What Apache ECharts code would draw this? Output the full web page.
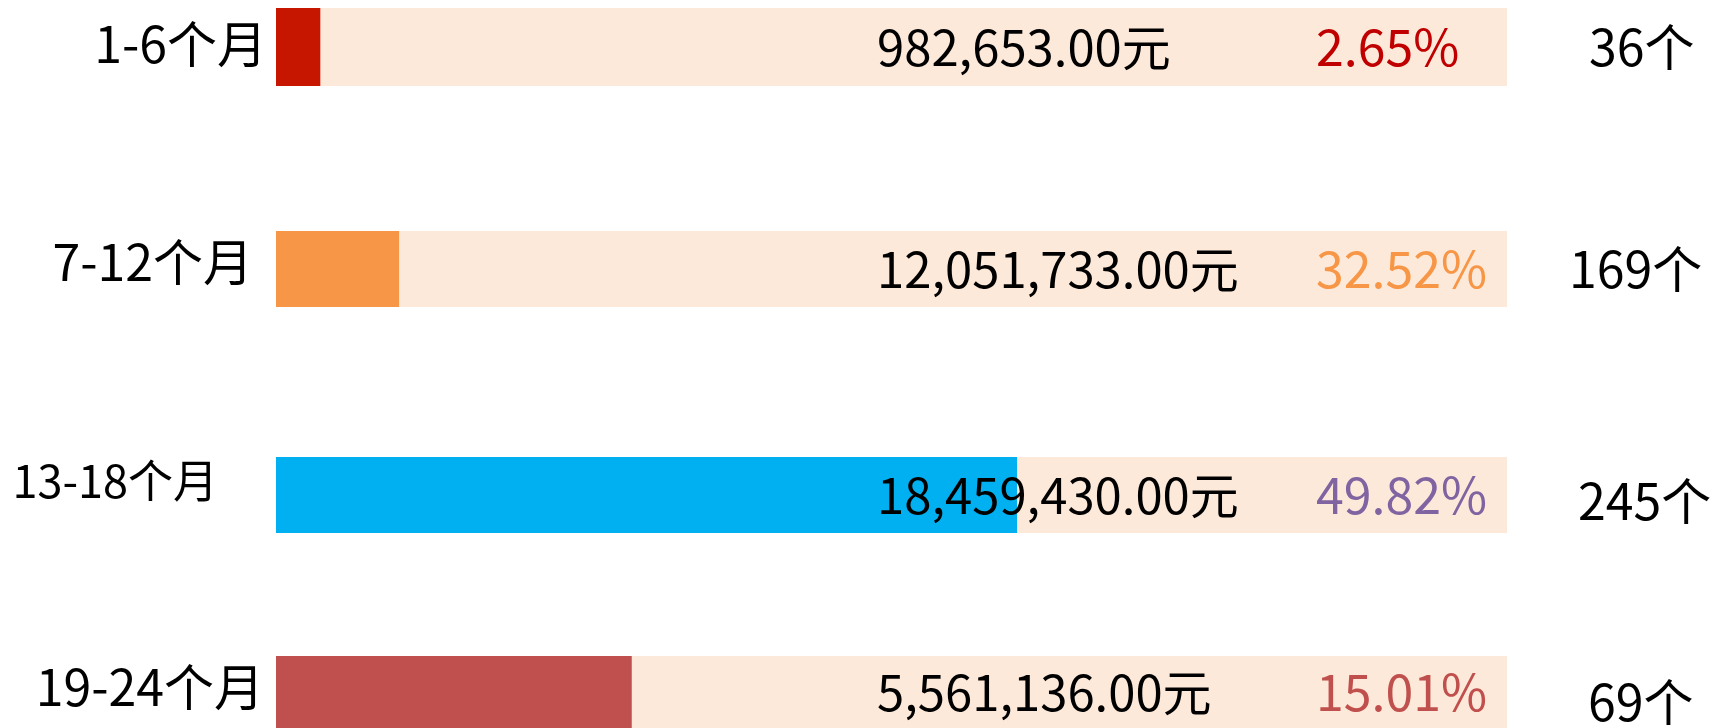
<!DOCTYPE html>
<html>
<head>
<meta charset="utf-8">
<script src="https://cdn.jsdelivr.net/npm/echarts@6/dist/echarts.min.js"></script>
<style>
    html, body { margin: 0; padding: 0; background: #fff; }
    #main { width: 1724px; height: 728px; }
</style>
</head>
<body>
<div id="main"></div>
<script>
var categories = ['1-6个月', '7-12个月', '13-18个月', '19-24个月'];
var amounts = [982653, 12051733, 18459430, 5561136];
var percents = [2.65, 32.52, 49.82, 15.01];
var counts = [36, 169, 245, 69];
// length of the coloured part as drawn (percent of the track)
var barFill = [3.6, 10, 60.2, 28.9];

var barColors = ['#C71600', '#F79646', '#00B0F0', '#C0504D'];
var pctColors = ['#C00000', '#F79646', '#8064A2', '#C0504D'];

// one grid per row, rows are not evenly spaced in the original
var rowTop = [8, 231, 457, 656];
var rowHeight = [78, 76, 76, 72];
var nameGap = [9, 23, 58, 12];
var nameLift = [6, 14, 28, 10];
var nameSize = [50, 50, 45, 50];
var countGap = [82, 62, 71, 81];
var countDrop = [0, 0, 12, 20];

var chart = echarts.init(document.getElementById('main'));

var grids = [], xAxes = [], yAxes = [], series = [];
categories.forEach(function (cat, i) {
    grids.push({
        left: 276, right: 217, top: rowTop[i], height: rowHeight[i],
        containLabel: false,
        outerBoundsMode: 'none'
    });
    xAxes.push({ gridIndex: i, type: 'value', min: 0, max: 100, show: false });
    // left: category name
    yAxes.push({
        gridIndex: i,
        type: 'category',
        data: [cat],
        axisLine: { show: false },
        axisTick: { show: false },
        axisLabel: {
            margin: nameGap[i],
            formatter: '{n|{value}}',
            rich: {
                n: { fontSize: nameSize[i], color: '#000', padding: [0, 0, nameLift[i], 0] }
            }
        }
    });
    // right: project count
    yAxes.push({
        gridIndex: i,
        type: 'category',
        position: 'right',
        data: [counts[i] + '个'],
        axisLine: { show: false },
        axisTick: { show: false },
        axisLabel: {
            margin: countGap[i],
            formatter: '{n|{value}}',
            rich: {
                n: { fontSize: 50, color: '#000', padding: [countDrop[i], 0, 0, 0] }
            }
        }
    });
    series.push({
        type: 'bar',
        xAxisIndex: i,
        yAxisIndex: i * 2,
        data: [barFill[i]],
        barWidth: '100%',
        itemStyle: { color: barColors[i] },
        showBackground: true,
        backgroundStyle: { color: '#FDE9D9' },
        silent: true,
        label: {
            show: true,
            position: [601, '50%'],
            verticalAlign: 'middle',
            formatter: function () {
                var amt = amounts[i].toLocaleString('en-US', { minimumFractionDigits: 2 });
                return '{v|' + amt + '元}{p|' + percents[i].toFixed(2) + '%}';
            },
            rich: {
                v: { fontSize: 49, color: '#000', width: 439 },
                p: { fontSize: 50, color: pctColors[i] }
            }
        }
    });
});

chart.setOption({
    animation: false,
    textStyle: { fontFamily: 'Noto Sans CJK SC' },
    grid: grids,
    xAxis: xAxes,
    yAxis: yAxes,
    series: series
});
</script>
</body>
</html>
